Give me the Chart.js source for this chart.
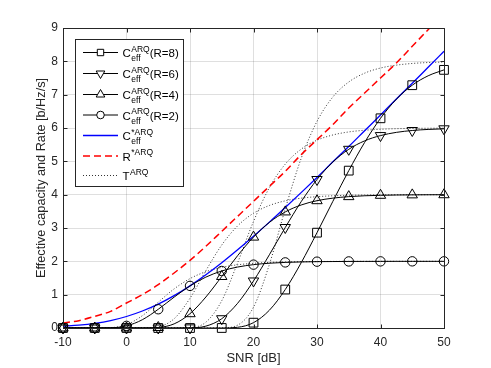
<!DOCTYPE html>
<html><head><meta charset="utf-8">
<script src="https://cdn.jsdelivr.net/npm/chart.js@4/dist/chart.umd.min.js"></script>
<style>html,body{margin:0;padding:0;background:#fff;}canvas{display:block}</style>
</head><body>
<canvas id="c" width="491" height="368"></canvas>
<script>
// ---- data ----
const snr = [-10,-7.5,-5,-2.5,0,2.5,5,7.5,10,12.5,15,17.5,20,22.5,25,27.5,30,32.5,35,37.5,40,42.5,45,47.5,50];
const xTicks = [-10,0,10,20,30,40,50];
const yTicks = [0,1,2,3,4,5,6,7,8,9];

const ceffR8 = [0,0,0,0,0,0,0,0,0,0,0.0006,0.021,0.160,0.533,1.154,1.955,2.860,3.801,4.721,5.567,6.291,6.865,7.284,7.566,7.744];
const ceffR6 = [0,0,0,0,0,0,0,0,0.0035,0.056,0.278,0.742,1.411,2.198,3.015,3.788,4.455,4.981,5.361,5.614,5.773,5.869,5.925,5.957,5.976];
const ceffR4 = [0,0,0,0,0,0.0003,0.015,0.124,0.429,0.930,1.545,2.171,2.727,3.168,3.482,3.690,3.819,3.896,3.941,3.967,3.981,3.990,3.994,3.997,3.998];
const ceffR2 = [0,0,0,0.006,0.064,0.249,0.562,0.926,1.263,1.527,1.711,1.829,1.901,1.943,1.968,1.982,1.990,1.994,1.997,1.998,1.999,2.0,2.0,2.0,2.0];
const ceffStar = [0.05,0.085,0.14,0.223,0.345,0.51,0.716,0.97,1.265,1.595,1.956,2.345,2.751,3.176,3.615,4.061,4.517,4.985,5.445,5.918,6.39,6.87,7.34,7.821,8.30];
const rStar = [0.15,0.22,0.35,0.5,0.75,1.0,1.3,1.65,2.03,2.45,2.9,3.35,3.8,4.25,4.7,5.2,5.65,6.1,6.6,7.05,7.5,7.95,8.45,8.95,9.45];
const tR8 = [0,0,0,0,0,0,0,0,0,0,0.0025,0.086,0.625,1.906,3.572,5.083,6.199,6.931,7.380,7.645,7.799,7.886,7.936,7.964,7.980];
const tR6 = [0,0,0,0,0,0,0,0.0001,0.011,0.174,0.818,1.957,3.196,4.210,4.916,5.364,5.634,5.791,5.882,5.933,5.962,5.979,5.988,5.993,5.996];
const tR4 = [0,0,0,0,0,0.0009,0.035,0.278,0.892,1.721,2.489,3.064,3.443,3.676,3.815,3.895,3.940,3.966,3.981,3.989,3.994,3.997,3.998,3.999,4.0];
const tR2 = [0,0,0.0002,0.0096,0.0996,0.370,0.774,1.173,1.482,1.690,1.819,1.896,1.941,1.967,1.981,1.989,1.994,1.997,1.998,1.999,1.999,2.0,2.0,2.0,2.0];

// legend text pieces
const legMain = ['C','C','C','C','C','R','T'];
const legSup  = ['ARQ','ARQ','ARQ','ARQ','*ARQ','*ARQ','ARQ'];
const legSub  = ['eff','eff','eff','eff','eff','',''];
const legTail = ['(R=8)','(R=6)','(R=4)','(R=2)','','',''];

const FONT = '"Liberation Sans", Arial, Helvetica, sans-serif';
const AX = '#262626';

const pts = ys => snr.map((x,i)=>({x:x, y:ys[i]}));
const mr = r => ctx => (snr[ctx.dataIndex] % 5 === 0 ? r : 0);

function markerDS(label, ys, style, r, rot){
  return {label, data: pts(ys), borderColor:'#000', borderWidth:1,
    pointStyle: style, pointRadius: mr(r), pointHoverRadius: mr(r), pointRotation: rot||0,
    pointBorderColor:'#000', pointBackgroundColor:'rgba(0,0,0,0)', pointBorderWidth:1,
    cubicInterpolationMode:'monotone', fill:false, clip:false};
}
function lineDS(label, ys, color, w, dash){
  return {label, data: pts(ys), borderColor:color, borderWidth:w, borderDash:dash||[],
    pointRadius:0, cubicInterpolationMode:'monotone', fill:false};
}

const datasets = [
  markerDS('C_eff^ARQ(R=8)', ceffR8, 'rect', 6.2),
  markerDS('C_eff^ARQ(R=6)', ceffR6, 'triangle', 6, 180),
  markerDS('C_eff^ARQ(R=4)', ceffR4, 'triangle', 6),
  markerDS('C_eff^ARQ(R=2)', ceffR2, 'circle', 4.7),
  lineDS('C_eff^*ARQ', ceffStar, '#0000ff', 1.3),
  lineDS('R^*ARQ', rStar, '#ff0000', 1.5, [7,4]),
  lineDS('T^ARQ', tR8, '#333', 1, [1,2]),
  lineDS('T^ARQ (R=6)', tR6, '#333', 1, [1,2]),
  lineDS('T^ARQ (R=4)', tR4, '#333', 1, [1,2]),
  lineDS('T^ARQ (R=2)', tR2, '#333', 1, [1,2]),
];

function drawMarker(ctx, style, x, y){
  ctx.beginPath();
  if(style==='rect'){ ctx.rect(x-3.2,y-3.2,6.4,6.4); }
  else if(style==='circle'){ ctx.arc(x,y,3.8,0,Math.PI*2); }
  else if(style==='tri'){ const r=5; ctx.moveTo(x,y-r); ctx.lineTo(x+r*0.866,y+r*0.5); ctx.lineTo(x-r*0.866,y+r*0.5); ctx.closePath(); }
  else if(style==='trid'){ const r=5; ctx.moveTo(x,y+r); ctx.lineTo(x+r*0.866,y-r*0.5); ctx.lineTo(x-r*0.866,y-r*0.5); ctx.closePath(); }
  ctx.fillStyle='#fff'; ctx.fill();
  ctx.stroke();
}

const frame = {
  id:'frame',
  afterDatasetsDraw(chart){
    const {ctx, chartArea:a, scales} = chart;
    ctx.save();
    ctx.strokeStyle = AX; ctx.lineWidth = 1;
    ctx.beginPath();
    const L=Math.round(a.left)+0.5, R=Math.round(a.right)+0.5, T=Math.round(a.top)+0.5, B=Math.round(a.bottom)+0.5;
    ctx.rect(L,T,R-L,B-T);
    xTicks.forEach(v=>{const x=Math.round(scales.x.getPixelForValue(v))+0.5; ctx.moveTo(x,B); ctx.lineTo(x,B-4); ctx.moveTo(x,T); ctx.lineTo(x,T+4);});
    yTicks.forEach(v=>{const y=Math.round(scales.y.getPixelForValue(v))+0.5; ctx.moveTo(L,y); ctx.lineTo(L+4,y); ctx.moveTo(R,y); ctx.lineTo(R-4,y);});
    ctx.stroke();
    ctx.restore();
  },
  afterDraw(chart){
    const ctx = chart.ctx;
    ctx.save();
    const bx=75.5, by=39.5, bw=108, bh=147;
    ctx.fillStyle='#fff'; ctx.fillRect(bx,by,bw,bh);
    ctx.strokeStyle=AX; ctx.lineWidth=1; ctx.strokeRect(bx,by,bw,bh);
    const ys=[52.5,73.5,94.5,115,135.5,156,175.5];
    const styles=['rect','trid','tri','circle',null,null,null];
    for(let i=0;i<7;i++){
      const ds = chart.data.datasets[i];
      const y = ys[i];
      ctx.save();
      ctx.strokeStyle = ds.borderColor; ctx.lineWidth = ds.borderWidth;
      ctx.setLineDash(ds.borderDash||[]);
      ctx.beginPath(); ctx.moveTo(83,y); ctx.lineTo(118,y); ctx.stroke();
      ctx.setLineDash([]);
      if(styles[i]){ ctx.lineWidth=1; drawMarker(ctx, styles[i], 100.5, y); }
      ctx.restore();
      // text
      ctx.fillStyle='#000'; ctx.textBaseline='alphabetic'; ctx.textAlign='left';
      let x = 122.5;
      ctx.font = '11.5px '+FONT;
      ctx.fillText(legMain[i], x, y+4.5);
      x += ctx.measureText(legMain[i]).width + 0.5;
      ctx.font = '8.5px '+FONT;
      const wsup = ctx.measureText(legSup[i]).width;
      ctx.fillText(legSup[i], x, y-1);
      let wsub = 0;
      if(legSub[i]){ wsub = ctx.measureText(legSub[i]).width; ctx.fillText(legSub[i], x, y+8.5); }
      x += Math.max(wsup, wsub);
      if(legTail[i]){ ctx.font='11.5px '+FONT; ctx.fillText(legTail[i], x, y+4.5); }
    }
    ctx.restore();
  }
};

new Chart(document.getElementById('c'), {
  type:'line',
  data:{datasets},
  options:{
    responsive:false, animation:false,
    layout:{padding:{left:0,right:47,top:28,bottom:0}},
    plugins:{legend:{display:false}, tooltip:{enabled:false}},
    scales:{
      x:{type:'linear', min:-10, max:50,
        afterBuildTicks: s => { s.ticks = xTicks.map(v=>({value:v})); },
        afterFit: s => { s.height = 40; },
        grid:{color:'rgba(38,38,38,0.15)', drawTicks:false},
        border:{color:AX},
        ticks:{padding:7, color:AX, font:{family:FONT,size:12}, maxRotation:0},
        title:{display:true, text:'SNR [dB]', color:AX, font:{family:FONT,size:13}, padding:{top:0,bottom:2}}
      },
      y:{type:'linear', min:0, max:9,
        afterBuildTicks: s => { s.ticks = yTicks.map(v=>({value:v})); },
        afterFit: s => { s.width = 63; },
        grid:{color:'rgba(38,38,38,0.15)', drawTicks:false},
        border:{color:AX},
        ticks:{padding:5, color:AX, font:{family:FONT,size:12}},
        title:{display:true, text:'Effective capacity and Rate [b/Hz/s]', color:AX, font:{family:FONT,size:12.7}, padding:{top:34,bottom:0}}
      }
    }
  },
  plugins:[frame]
});
</script>
</body></html>
